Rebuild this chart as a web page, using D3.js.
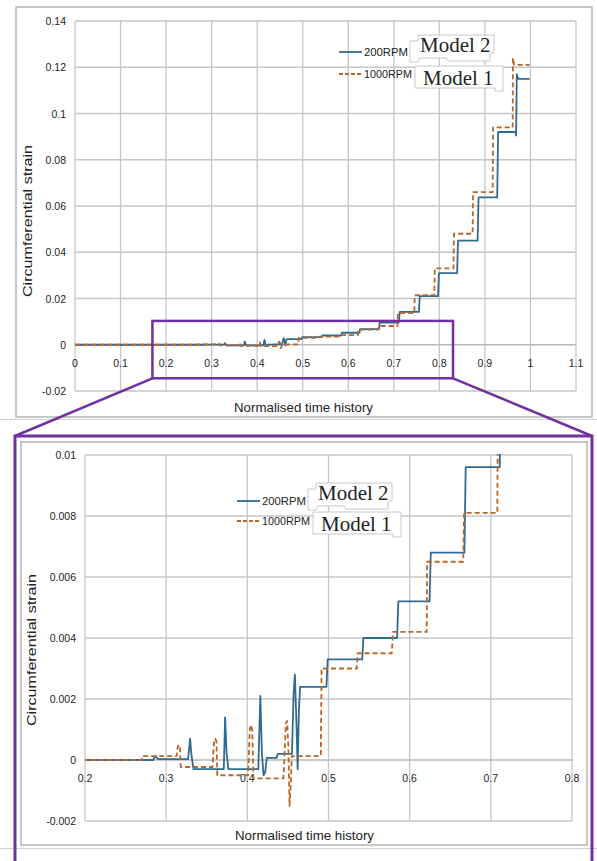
<!DOCTYPE html>
<html>
<head>
<meta charset="utf-8">
<script src="https://cdn.jsdelivr.net/npm/d3@7"></script>
<style>
  body { margin: 0; background: #fff; }
  svg { display: block; }
  text { font-family: "Liberation Sans", Arial, sans-serif; fill: #222; }
</style>
</head>
<body>
<svg width="597" height="861"></svg>
<script>
// series: normalised time / circumferential strain
var t200 = [0, 0.27, 0.284, 0.287, 0.29, 0.327, 0.3295, 0.331, 0.3336, 0.371, 0.3726, 0.3745, 0.3767, 0.4135,
  0.416, 0.418, 0.42, 0.422, 0.424, 0.436, 0.4375, 0.455, 0.457, 0.4586, 0.4605, 0.462, 0.4635, 0.465, 0.4975,
  0.499, 0.5415, 0.543, 0.5845, 0.586, 0.6245, 0.626, 0.6675, 0.669, 0.711, 0.713, 0.755, 0.757, 0.797, 0.799,
  0.839, 0.841, 0.884, 0.886, 0.927, 0.929, 0.967, 0.9685, 0.97, 0.973, 0.998];
var s200 = [0, 0, 0, 0.00013, 0.00003, 0.00003, 0.0007, 0.0002, -0.0003, -0.0003, 0.0014, 0.0002, -0.0003, -0.0003,
  0.0021, 0.0002, -0.0005, -0.0004, 0.00007, 0.00007, 0.0002, 0.0002, 0.0022, 0.0028, 0.0012, -0.0003, 0.0016, 0.0024, 0.0024,
  0.0033, 0.0033, 0.004, 0.004, 0.0052, 0.0052, 0.0068, 0.0068, 0.0096, 0.0096, 0.0142, 0.0142, 0.021, 0.021, 0.031,
  0.031, 0.045, 0.045, 0.0637, 0.0637, 0.092, 0.092, 0.0905, 0.117, 0.115, 0.115];

var t1000 = [0, 0.27, 0.2705, 0.313, 0.314, 0.3155, 0.317, 0.318, 0.357, 0.359, 0.3605, 0.362, 0.363, 0.401,
  0.403, 0.4045, 0.406, 0.4075, 0.4445, 0.4475, 0.449, 0.4505, 0.452, 0.4535, 0.4548, 0.4905, 0.4915, 0.535, 0.536,
  0.578, 0.5795, 0.621, 0.6215, 0.666, 0.667, 0.708, 0.709, 0.745, 0.746, 0.789, 0.79, 0.831, 0.832, 0.873, 0.874,
  0.917, 0.918, 0.961, 0.9615, 0.964, 0.998];
var s1000 = [0, 0, 0.00013, 0.00013, 0.0004, 0.0005, 0.0004, -0.00023, -0.00023, 0.0006, 0.0007, 0.0006, -0.0005, -0.0005,
  0.001, 0.00115, 0.001, -0.0006, -0.0006, 0.0012, 0.00128, 0.0005, -0.0015, -0.0008, 0.00013, 0.00013, 0.003, 0.003, 0.0035,
  0.0035, 0.0042, 0.0042, 0.0065, 0.0065, 0.0081, 0.0081, 0.0137, 0.0137, 0.0214, 0.0214, 0.033, 0.033, 0.048, 0.048, 0.066,
  0.066, 0.094, 0.094, 0.124, 0.121, 0.121];

var seriesNames = ["200RPM", "1000RPM"];
var modelNames = ["Model 2", "Model 1"];

var xTicksFull = [0, 0.1, 0.2, 0.3, 0.4, 0.5, 0.6, 0.7, 0.8, 0.9, 1, 1.1];
var yTicksFull = [-0.02, 0, 0.02, 0.04, 0.06, 0.08, 0.1, 0.12, 0.14];
var xTicksZoom = [0.2, 0.3, 0.4, 0.5, 0.6, 0.7, 0.8];
var yTicksZoom = [-0.002, 0, 0.002, 0.004, 0.006, 0.008, 0.01];

var svg = d3.select("svg");
var blue = "#2f6a93", orange = "#b8662a", purple = "#7030a0", gridCol = "#c6c6c6";
var fmt = function(v) { return String(+v.toFixed(4)); };

var series = [
  { name: seriesNames[0], pts: d3.zip(t200, s200), color: blue, dash: null },
  { name: seriesNames[1], pts: d3.zip(t1000, s1000), color: orange, dash: "5,3" }
];

// light page separators
svg.append("line").attr("x1", 0).attr("x2", 597).attr("y1", 419.5).attr("y2", 419.5)
  .attr("stroke", "#d0d0d0").attr("stroke-width", 1);
svg.append("line").attr("x1", 0).attr("x2", 597).attr("y1", 848.5).attr("y2", 848.5)
  .attr("stroke", "#d0d0d0").attr("stroke-width", 1);

function drawPanel(cfg, id) {
  var x = d3.scaleLinear().domain(cfg.xDom).range([cfg.left, cfg.right]);
  var y = d3.scaleLinear().domain(cfg.yDom).range([cfg.bottom, cfg.top]);
  var g = svg.append("g");

  g.append("rect").attr("x", cfg.frame[0]).attr("y", cfg.frame[1])
    .attr("width", cfg.frame[2] - cfg.frame[0]).attr("height", cfg.frame[3] - cfg.frame[1])
    .attr("fill", "#fff").attr("stroke", "#b4b4b4").attr("stroke-width", 1.5);

  g.selectAll(".gx").data(cfg.xTicks).enter().append("line")
    .attr("x1", function(d) { return x(d); }).attr("x2", function(d) { return x(d); })
    .attr("y1", cfg.top).attr("y2", cfg.bottom)
    .attr("stroke", gridCol).attr("stroke-width", 1.3);
  g.selectAll(".gy").data(cfg.yTicks).enter().append("line")
    .attr("x1", cfg.left).attr("x2", cfg.right)
    .attr("y1", function(d) { return y(d); }).attr("y2", function(d) { return y(d); })
    .attr("stroke", function(d) { return d === 0 ? "#b8b8b8" : gridCol; }).attr("stroke-width", 1.3);

  g.selectAll(".ty").data(cfg.yTicks).enter().append("text")
    .attr("x", cfg.left - 9).attr("y", function(d) { return y(d) + 4; })
    .attr("text-anchor", "end").attr("font-size", 10.5)
    .text(fmt);
  g.selectAll(".tx").data(cfg.xTicks).enter().append("text")
    .attr("x", function(d) { return x(d); }).attr("y", y(0) + 22)
    .attr("text-anchor", "middle").attr("font-size", 10.5)
    .text(fmt);

  g.append("text").attr("x", cfg.xTitle[0]).attr("y", cfg.xTitle[1])
    .attr("font-size", 13).attr("textLength", 139).attr("lengthAdjust", "spacingAndGlyphs")
    .text("Normalised time history");
  g.append("text")
    .attr("transform", "translate(" + cfg.yTitle[0] + "," + cfg.yTitle[1] + ") rotate(-90)")
    .attr("text-anchor", "middle").attr("font-size", 13)
    .attr("textLength", 152).attr("lengthAdjust", "spacingAndGlyphs")
    .text("Circumferential strain");

  g.append("clipPath").attr("id", id).append("rect")
    .attr("x", cfg.left).attr("y", cfg.top - 1)
    .attr("width", cfg.right - cfg.left).attr("height", cfg.bottom - cfg.top + 2);

  var line = d3.line().x(function(d) { return x(d[0]); }).y(function(d) { return y(d[1]); });
  g.selectAll(".series").data(series).enter().append("path")
    .attr("clip-path", "url(#" + id + ")")
    .attr("d", function(d) { return line(d.pts); })
    .attr("fill", "none")
    .attr("stroke", function(d) { return d.color; })
    .attr("stroke-width", cfg.lw)
    .attr("stroke-dasharray", function(d) { return d.dash; })
    .attr("stroke-linejoin", "round");

  // legend
  var L = cfg.legend;
  series.forEach(function(s, i) {
    var ly = L.y + i * L.gap;
    g.append("line").attr("x1", L.x).attr("x2", L.x + 23).attr("y1", ly).attr("y2", ly)
      .attr("stroke", s.color).attr("stroke-width", 1.8).attr("stroke-dasharray", s.dash ? "4,2" : null);
    g.append("text").attr("x", L.x + 25).attr("y", ly + 4).attr("font-size", 10)
      .attr("textLength", i === 0 ? 44 : 48).attr("lengthAdjust", "spacingAndGlyphs")
      .text(s.name);
  });
  var mx = L.mx, m2 = L.m2, m1 = L.m1;
  var box2 = [[-10, -11], [-2, -11], [-2, -17], [74, -17], [74, 1], [70, 1], [70, 9], [28, 9], [26, 6], [0, 6], [-2, 10], [-10, 10]];
  var box1 = [[-5, -19], [83, -19], [83, 6], [75, 6], [75, 3], [-5, 3]];
  var poly = d3.line();
  g.append("path").attr("d", poly(box2.map(function(p) { return [mx + p[0], m2 + p[1]]; })) + "Z")
    .attr("fill", "#fff").attr("stroke", "#c8c8c8").attr("stroke-width", 1);
  g.append("path").attr("d", poly(box1.map(function(p) { return [mx + p[0], m1 + p[1]]; })) + "Z")
    .attr("fill", "#fff").attr("stroke", "#c8c8c8").attr("stroke-width", 1);
  g.append("text").attr("x", mx).attr("y", m2).style("font-family", "'Liberation Serif', 'Times New Roman', serif")
    .attr("font-size", 21).attr("fill", "#222").text(modelNames[0]);
  g.append("text").attr("x", mx + 3).attr("y", m1).style("font-family", "'Liberation Serif', 'Times New Roman', serif")
    .attr("font-size", 21).attr("fill", "#222").text(modelNames[1]);

  return { x: x, y: y };
}

var fullPanel = drawPanel({
  frame: [16, 7, 592, 417],
  left: 75, right: 576, top: 21, bottom: 391,
  xDom: [0, 1.1], yDom: [-0.02, 0.14],
  xTicks: xTicksFull, yTicks: yTicksFull,
  xTitle: [234, 412], yTitle: [32, 221],
  lw: 1.8,
  legend: { x: 339, y: 52, gap: 22, mx: 420, m2: 52, m1: 85 }
}, "clipFull");

var zoomPanel = drawPanel({
  frame: [21, 442, 587, 845],
  left: 85, right: 572, top: 455, bottom: 821,
  xDom: [0.2, 0.8], yDom: [-0.002, 0.01],
  xTicks: xTicksZoom, yTicks: yTicksZoom,
  xTitle: [235, 840], yTitle: [36, 650],
  lw: 1.8,
  legend: { x: 237, y: 501, gap: 20, mx: 318, m2: 500, m1: 531 }
}, "clipZoom");

// zoom box on the full chart and the connecting lines to the enlarged panel
var bx0 = fullPanel.x(0.17), bx1 = fullPanel.x(0.83), by0 = fullPanel.y(0.0103), by1 = fullPanel.y(-0.0145);
svg.append("rect").attr("x", bx0).attr("y", by0).attr("width", bx1 - bx0).attr("height", by1 - by0)
  .attr("fill", "none").attr("stroke", purple).attr("stroke-width", 2.5);
svg.append("line").attr("x1", bx0).attr("y1", by1).attr("x2", 15).attr("y2", 436)
  .attr("stroke", purple).attr("stroke-width", 2.5);
svg.append("line").attr("x1", bx1).attr("y1", by1).attr("x2", 592).attr("y2", 436)
  .attr("stroke", purple).attr("stroke-width", 2.5);
svg.append("path").attr("d", "M15,870 L15,436 L592,436 L592,870")
  .attr("fill", "none").attr("stroke", purple).attr("stroke-width", 3);
</script>
</body>
</html>
